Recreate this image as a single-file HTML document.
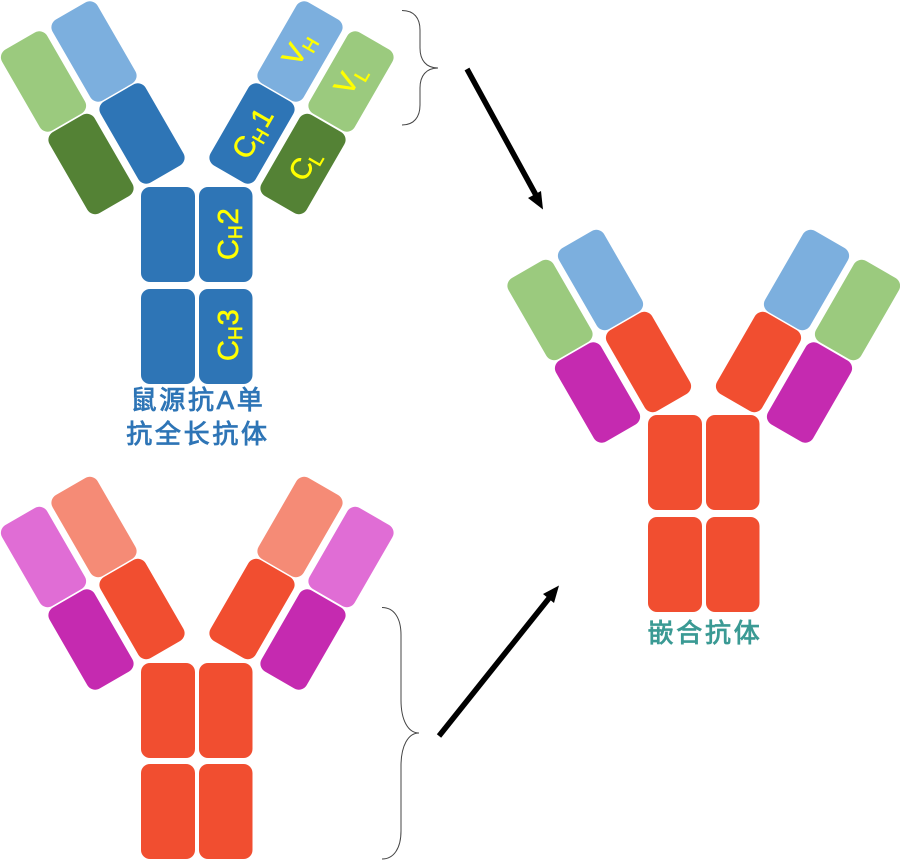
<!DOCTYPE html>
<html><head><meta charset="utf-8"><style>
html,body{margin:0;padding:0;background:#fff}
svg{display:block}
text{font-family:"Liberation Sans","Noto Sans CJK SC",sans-serif}
.y{fill:#FFFF00;stroke:#FFFF00;stroke-width:.6px;text-anchor:start;font-size:29px}
.sm{font-size:19px}
.cn{font-size:26px;font-weight:400;stroke-width:.85px;letter-spacing:2.7px;text-anchor:middle}
</style></head><body>
<svg xmlns="http://www.w3.org/2000/svg" width="900" height="860" viewBox="0 0 900 860">
<rect width="900" height="860" fill="#fff"/>
<defs><g id="d"><rect x="-26" y="-46.75" width="52" height="93.5" rx="9"/></g></defs>

<!-- Mouse antibody -->
<g>
<use href="#d" transform="translate(94,51.5) rotate(-30)" fill="#7CAFDE"/>
<use href="#d" transform="translate(43.5,81.5) rotate(-30)" fill="#9BCA7E"/>
<use href="#d" transform="translate(142,133.5) rotate(-30)" fill="#2E75B6"/>
<use href="#d" transform="translate(91,164) rotate(-30)" fill="#548235"/>
<use href="#d" transform="translate(300,51.5) rotate(30)" fill="#7CAFDE"/>
<use href="#d" transform="translate(351,81.5) rotate(30)" fill="#9BCA7E"/>
<use href="#d" transform="translate(252,133.5) rotate(30)" fill="#2E75B6"/>
<use href="#d" transform="translate(303,164) rotate(30)" fill="#548235"/>
<rect x="141" y="187" width="54" height="95" rx="9" fill="#2E75B6"/>
<rect x="199" y="187" width="53.5" height="95" rx="9" fill="#2E75B6"/>
<rect x="141" y="289" width="54" height="95" rx="9" fill="#2E75B6"/>
<rect x="199" y="289" width="53.5" height="95" rx="9" fill="#2E75B6"/>
</g>

<!-- Labels -->
<text class="y" transform="translate(298,68) rotate(-60)">V<tspan class="sm" dy="6">H</tspan></text>
<text class="y" transform="translate(350,97) rotate(-60)">V<tspan class="sm" dy="6">L</tspan></text>
<text class="y" transform="translate(248,161) rotate(-60)">C<tspan class="sm" dy="5">H</tspan><tspan dx="2" dy="-5">1</tspan></text>
<text class="y" transform="translate(304.5,183) rotate(-60)">C<tspan class="sm" dy="5">L</tspan></text>
<text class="y" transform="translate(238,260) rotate(-90)">C<tspan class="sm" dy="4">H</tspan><tspan dx="1" dy="-4">2</tspan></text>
<text class="y" transform="translate(238,361) rotate(-90)">C<tspan class="sm" dy="4">H</tspan><tspan dx="1" dy="-4">3</tspan></text>

<text class="cn" x="198" y="409" fill="#2E75B6" stroke="#2E75B6">鼠源抗A单</text>
<text class="cn" x="198" y="443" fill="#2E75B6" stroke="#2E75B6">抗全长抗体</text>

<!-- Human antibody -->
<g>
<use href="#d" transform="translate(94,527) rotate(-30)" fill="#F58B76"/>
<use href="#d" transform="translate(43.5,557) rotate(-30)" fill="#E06DD5"/>
<use href="#d" transform="translate(142,609) rotate(-30)" fill="#F14E30"/>
<use href="#d" transform="translate(91,639.5) rotate(-30)" fill="#C52AB0"/>
<use href="#d" transform="translate(300,527) rotate(30)" fill="#F58B76"/>
<use href="#d" transform="translate(351,557) rotate(30)" fill="#E06DD5"/>
<use href="#d" transform="translate(252,609) rotate(30)" fill="#F14E30"/>
<use href="#d" transform="translate(303,639.5) rotate(30)" fill="#C52AB0"/>
<rect x="141" y="663" width="54" height="95" rx="9" fill="#F14E30"/>
<rect x="199" y="663" width="53.5" height="95" rx="9" fill="#F14E30"/>
<rect x="141" y="764" width="54" height="95" rx="9" fill="#F14E30"/>
<rect x="199" y="764" width="53.5" height="95" rx="9" fill="#F14E30"/>
</g>

<!-- Chimeric antibody -->
<g>
<use href="#d" transform="translate(600.5,280) rotate(-30)" fill="#7CAFDE"/>
<use href="#d" transform="translate(550,310) rotate(-30)" fill="#9BCA7E"/>
<use href="#d" transform="translate(648.5,362) rotate(-30)" fill="#F14E30"/>
<use href="#d" transform="translate(597.5,392.5) rotate(-30)" fill="#C52AB0"/>
<use href="#d" transform="translate(806.5,280) rotate(30)" fill="#7CAFDE"/>
<use href="#d" transform="translate(857.5,310) rotate(30)" fill="#9BCA7E"/>
<use href="#d" transform="translate(758.5,362) rotate(30)" fill="#F14E30"/>
<use href="#d" transform="translate(809.5,392.5) rotate(30)" fill="#C52AB0"/>
<rect x="648" y="415" width="54" height="95" rx="9" fill="#F14E30"/>
<rect x="706" y="415" width="53.5" height="95" rx="9" fill="#F14E30"/>
<rect x="648" y="517" width="54" height="95" rx="9" fill="#F14E30"/>
<rect x="706" y="517" width="53.5" height="95" rx="9" fill="#F14E30"/>
</g>
<text class="cn" x="705" y="642" fill="#3B9A94" stroke="#3B9A94">嵌合抗体</text>

<!-- Braces -->
<path d="M402,10.5 C414,10.5 420,18 420,30 L420,48 C420,60 426,68 438,68 C426,68 420,76 420,88 L420,105 C420,117 414,125 402,125" fill="none" stroke="#444" stroke-width="1"/>
<path d="M382,607.5 C394,607.5 401,618 401,635 L401,700 C401,720 408,733 419,733 C408,733 401,746 401,766 L401,831 C401,848 394,859 382,859" fill="none" stroke="#444" stroke-width="1"/>

<!-- Arrows -->
<line x1="467" y1="69" x2="537" y2="197" stroke="#000" stroke-width="5.5"/>
<polygon points="543,209.5 528,198 541,191" fill="#000"/>
<line x1="439" y1="736" x2="550" y2="597" stroke="#000" stroke-width="5.5"/>
<polygon points="559,585.5 554,603 543,594" fill="#000"/>
</svg>
</body></html>
